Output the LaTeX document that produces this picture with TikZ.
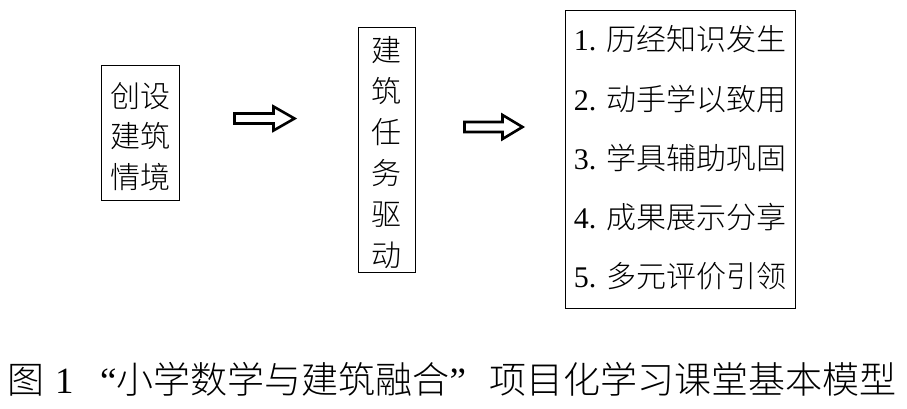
\documentclass[tikz,border=0pt]{standalone}
\usepackage{fontspec}
\setmainfont{Liberation Serif}
\newfontfamily\cjk{Noto Sans CJK SC Light}
\tikzset{
  x=1pt, y=-1pt,
  boxframe/.style={draw=black, line width=0.9pt, inner sep=0pt, fill=white},
  boxtext/.style={inner sep=0pt, font=\fontsize{30}{41}\selectfont\cjk, align=center},
  captext/.style={inner sep=0pt, anchor=base west, font=\fontsize{37}{40}\selectfont},
  blockarrow/.style={draw=black, line width=2.6pt, line join=miter, fill=white},
}
\begin{document}
\begin{tikzpicture}
\useasboundingbox (0,0) rectangle (907,408);
% box 1
\node[boxframe, minimum width=78pt, minimum height=135pt] (b1) at (140,132.5) {};
\node[boxtext, font=\fontsize{30}{40.5}\selectfont\cjk] (t1) at (b1.center) [yshift=-4pt] {创设\\建筑\\情境};
% box 2
\node[boxframe, minimum width=57pt, minimum height=245pt] (b2) at (386.5,149.5) {};
\node[boxtext] (t2) at (b2.center) [yshift=-3pt] {建\\筑\\任\\务\\驱\\动};
% box 3
\node[boxframe, minimum width=230pt, minimum height=298pt] (b3) at (680,159) {};
\node[inner sep=0pt, align=left, font=\fontsize{30}{59.3}\selectfont] (t3) at (b3.center) [yshift=1pt]
  {1. {\cjk 历经知识发生}\\2. {\cjk 动手学以致用}\\3. {\cjk 学具辅助巩固}\\4. {\cjk 成果展示分享}\\5. {\cjk 多元评价引领}};
% arrows
\coordinate (a1) at (234.5,108.5);
\coordinate (a2) at (464.5,117);
\draw[blockarrow] ([yshift=-5pt]a1) -- ++(39,0) -- ++(0,-7) -- ++(21,12) -- ++(-21,12) -- ++(0,-7) -- ++(-39,0) -- cycle;
\draw[blockarrow] ([yshift=-5pt]a2) -- ++(38,0) -- ++(0,-7) -- ++(20,12) -- ++(-20,12) -- ++(0,-7) -- ++(-38,0) -- cycle;
% caption
\node[captext] (c1) at (7,393) {\cjk 图};
\node[captext] (c2) at (55,393) {1};
\node[captext] (c3) at (100,393) {“{\cjk 小学数学与建筑融合}”};
\node[captext, anchor=base east] (c4) at (897,393) {\cjk 项目化学习课堂基本模型};
\end{tikzpicture}
\end{document}
